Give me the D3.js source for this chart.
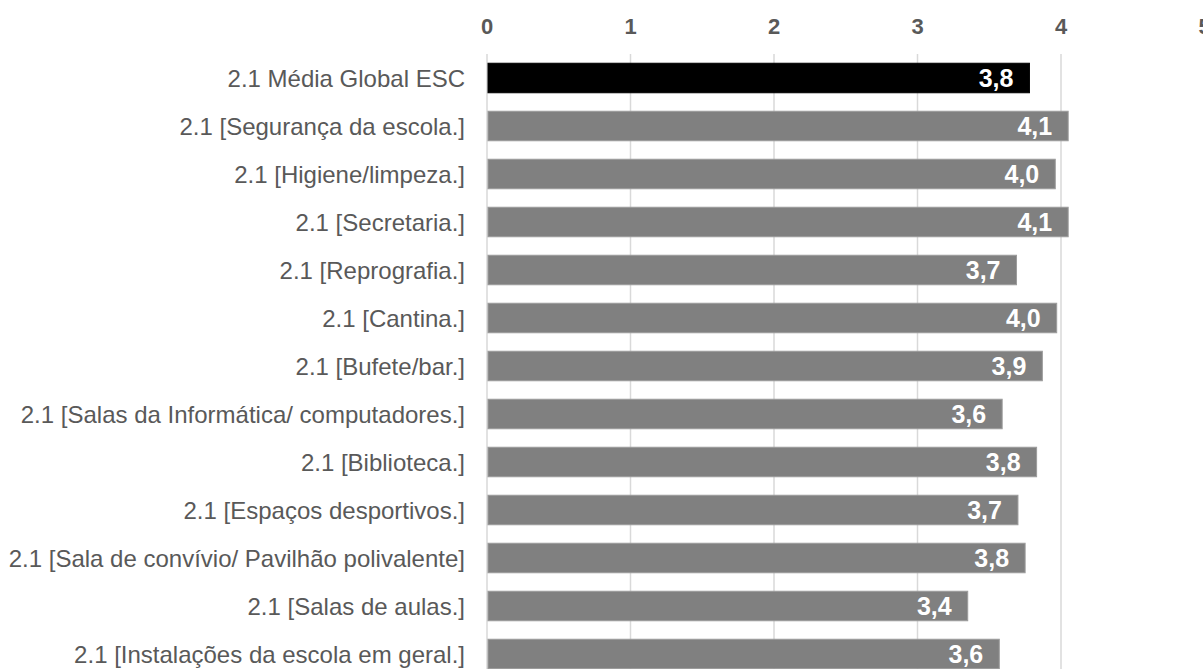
<!DOCTYPE html>
<html>
<head>
<meta charset="utf-8">
<script src="https://cdn.jsdelivr.net/npm/d3@7"></script>
<style>
  html, body { margin: 0; padding: 0; background: #fff; overflow: hidden; }
  svg { display: block; }
</style>
</head>
<body>
<svg id="chart" width="1203" height="669"></svg>
<script>
const categories = [
  "2.1 Média Global ESC",
  "2.1 [Segurança da escola.]",
  "2.1 [Higiene/limpeza.]",
  "2.1 [Secretaria.]",
  "2.1 [Reprografia.]",
  "2.1 [Cantina.]",
  "2.1 [Bufete/bar.]",
  "2.1 [Salas da Informática/ computadores.]",
  "2.1 [Biblioteca.]",
  "2.1 [Espaços desportivos.]",
  "2.1 [Sala de convívio/ Pavilhão polivalente]",
  "2.1 [Salas de aulas.]",
  "2.1 [Instalações da escola em geral.]"
];
const values = [3.78, 4.05, 3.96, 4.05, 3.69, 3.97, 3.87, 3.59, 3.83, 3.70, 3.75, 3.35, 3.57];
const valueLabels = ["3,8", "4,1", "4,0", "4,1", "3,7", "4,0", "3,9", "3,6", "3,8", "3,7", "3,8", "3,4", "3,6"];
const tickValues = [0, 1, 2, 3, 4, 5];
const tickLabels = ["0", "1", "2", "3", "4", "5"];

const svg = d3.select("#chart");
const font = "'Liberation Sans', Arial, Helvetica, sans-serif";

const x = d3.scaleLinear().domain([0, 5]).range([487, 1204.5]);
const y = d3.scaleBand().domain(categories).range([54, 678]).paddingInner(0.385).paddingOuter(0.1925);

// gridlines
svg.append("g").selectAll("line").data(tickValues).join("line")
  .attr("x1", d => x(d)).attr("x2", d => x(d))
  .attr("y1", 54).attr("y2", 669)
  .attr("stroke", "#d9d9d9").attr("stroke-width", 1.5);

// top axis labels
svg.append("g").selectAll("text").data(tickValues).join("text")
  .attr("x", d => x(d)).attr("y", 33.5)
  .attr("text-anchor", "middle")
  .attr("font-family", font).attr("font-weight", "bold").attr("font-size", 22)
  .attr("fill", "#595959")
  .text((d, i) => tickLabels[i]);

// bars
svg.append("g").selectAll("rect").data(categories).join("rect")
  .attr("x", x(0) + 1)
  .attr("y", d => y(d))
  .attr("width", (d, i) => x(values[i]) - x(0) - 1)
  .attr("height", y.bandwidth())
  .attr("fill", (d, i) => i === 0 ? "#000000" : "#808080")
  .attr("stroke", (d, i) => i === 0 ? "#000000" : "#9c9c9c")
  .attr("stroke-width", 1);

// value labels
svg.append("g").selectAll("text").data(categories).join("text")
  .attr("x", (d, i) => x(values[i]) - 16)
  .attr("y", d => y(d) + y.bandwidth() / 2 + 9)
  .attr("text-anchor", "end")
  .attr("font-family", font).attr("font-weight", "bold").attr("font-size", 25)
  .attr("fill", "#ffffff")
  .text((d, i) => valueLabels[i]);

// category labels
svg.append("g").selectAll("text").data(categories).join("text")
  .attr("x", 465)
  .attr("y", d => y(d) + y.bandwidth() / 2 + 8.5)
  .attr("text-anchor", "end")
  .attr("font-family", font).attr("font-size", 24)
  .attr("fill", "#595959")
  .text(d => d);
</script>
</body>
</html>
